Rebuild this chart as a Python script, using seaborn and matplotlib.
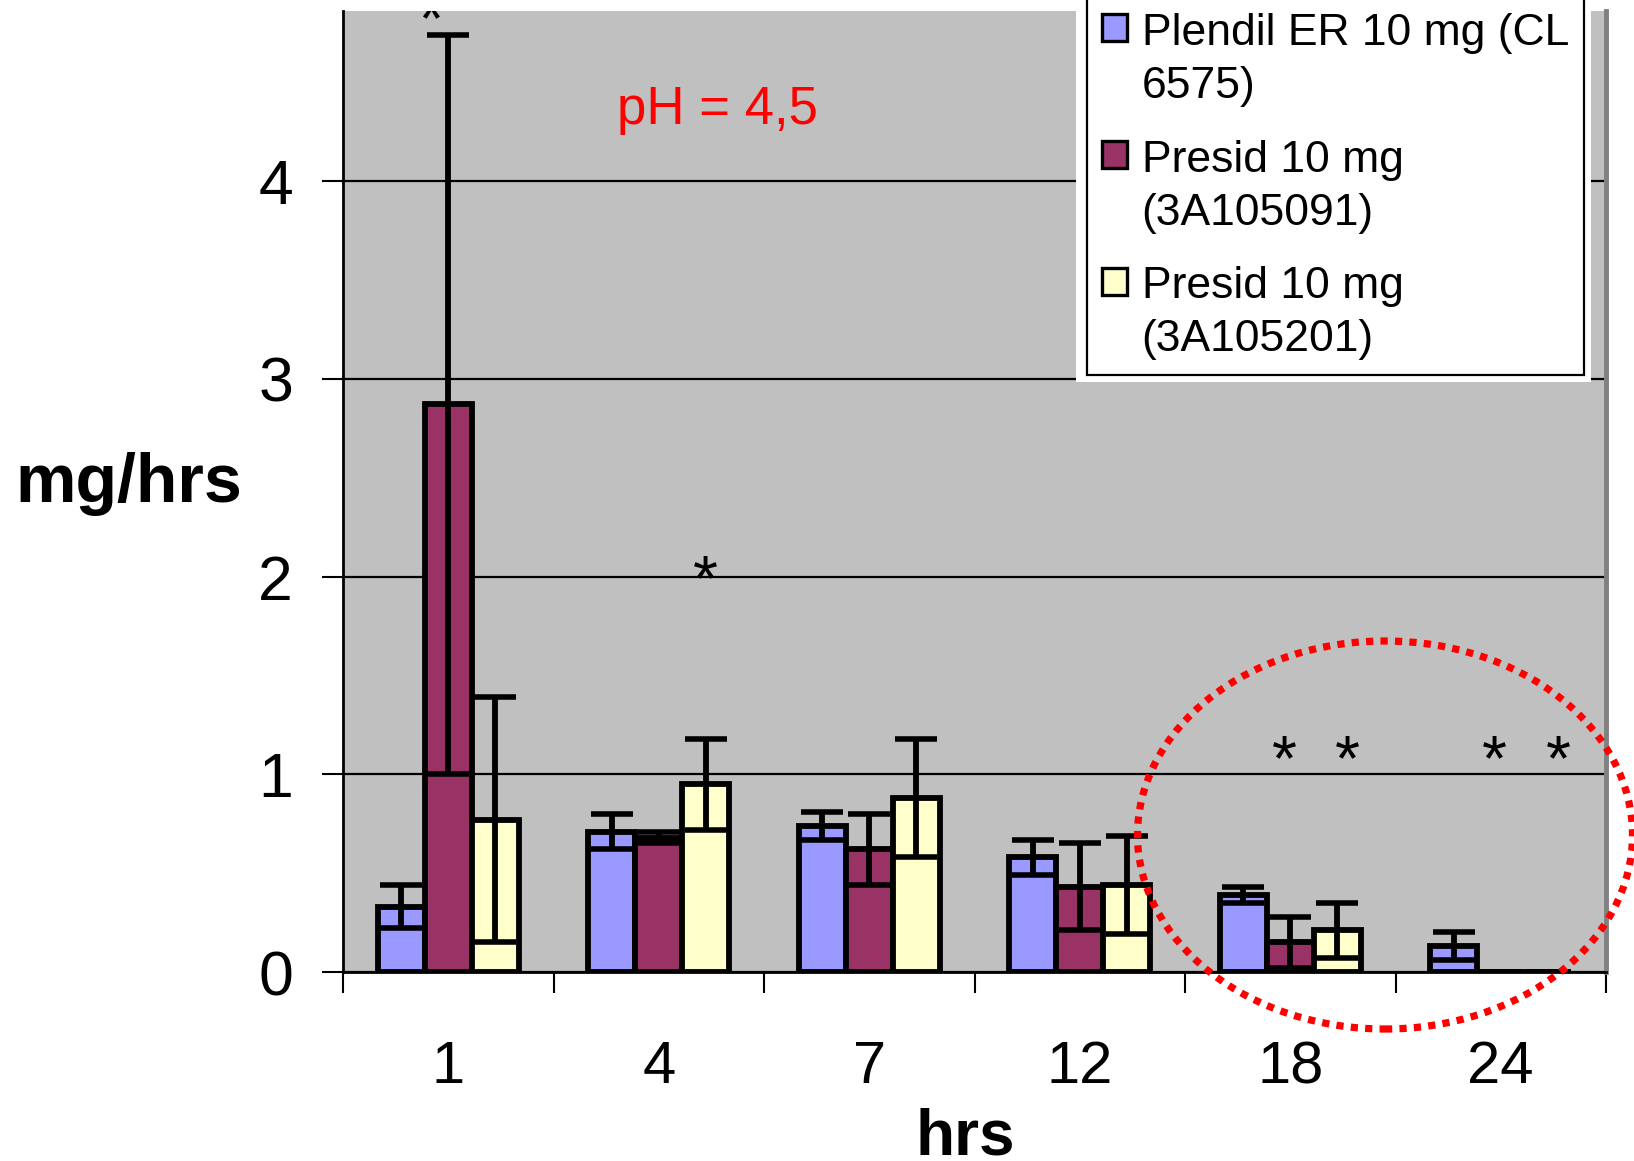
import numpy as np
import pandas as pd
import matplotlib
matplotlib.use("Agg")
import matplotlib.pyplot as plt
import matplotlib.patches as mpatches
import matplotlib.transforms as mtransforms
from matplotlib.legend_handler import HandlerPatch
import seaborn as sns

# ---- data ----
HOURS = ["1", "4", "7", "12", "18", "24"]
SERIES = ["Plendil ER 10 mg (CL\n6575)", "Presid 10 mg\n(3A105091)", "Presid 10 mg\n(3A105201)"]
plendil = [0.33, 0.71, 0.74, 0.58, 0.39, 0.13]
plendil_sd = [0.11, 0.09, 0.07, 0.09, 0.04, 0.07]
presid_091 = [2.87, 0.68, 0.62, 0.43, 0.15, 0.0]
presid_091_sd = [1.87, 0.03, 0.18, 0.22, 0.13, 0.0]
presid_201 = [0.77, 0.95, 0.88, 0.44, 0.21, 0.0]
presid_201_sd = [0.62, 0.23, 0.30, 0.25, 0.14, 0.0]

# significance stars: group index, series index, level, small nudge along x
STAR_GROUP = [0, 1, 4, 4, 5, 5]
STAR_SERIES = [1, 2, 1, 2, 1, 2]
STAR_LEVEL = [4.89, 2.06, 1.15, 1.15, 1.15, 1.15]
STAR_DX = [-0.08, 0.0, -0.03, 0.05, -0.03, 0.05]

COLORS = ["#9999FF", "#993366", "#FFFFCC"]
PLOT_BG = "#C0C0C0"
STAR_FS = 46


def first_line_square(legend, orig_handle, xdescent, ydescent, width, height, fontsize):
    # Excel puts the legend key next to the first line of a wrapped label
    return mpatches.Rectangle((-xdescent, -ydescent + 0.73 * fontsize), width, height)


def main():
    sns.set_theme(style="white")
    plt.rcParams["font.family"] = ["Liberation Sans", "DejaVu Sans"]
    for k in ["text.color", "axes.labelcolor", "xtick.color", "ytick.color"]:
        plt.rcParams[k] = "black"

    df = pd.DataFrame({
        "hrs": HOURS * 3,
        "series": np.repeat(SERIES, len(HOURS)),
        "rate": plendil + presid_091 + presid_201,
    })
    sds = [plendil_sd, presid_091_sd, presid_201_sd]

    fig = plt.figure(figsize=(16.34, 11.61), dpi=100)
    ax = fig.add_axes([343 / 1634, 1 - 972 / 1161, 1263 / 1634, 961 / 1161])
    ax.set_facecolor(PLOT_BG)

    sns.barplot(data=df, x="hrs", y="rate", hue="series", order=HOURS, hue_order=SERIES,
                palette=COLORS, saturation=1, width=0.67, errorbar=None,
                edgecolor="black", linewidth=4.2, legend=False, ax=ax, zorder=2)
    for cont in ax.containers:
        for b in cont:
            b.set_linewidth(4.2)

    # error bars on top of every bar
    for cont, sd in zip(ax.containers, sds):
        xs = [b.get_x() + b.get_width() / 2 for b in cont]
        ys = [b.get_height() for b in cont]
        ax.errorbar(xs, ys, yerr=sd, fmt="none", ecolor="black", elinewidth=4.2,
                    capsize=15, capthick=4, zorder=4)

    # asterisks
    star_tr = mtransforms.offset_copy(ax.transData, fig=fig, y=-0.55 * STAR_FS, units="points")
    for g, s, lvl, dx in zip(STAR_GROUP, STAR_SERIES, STAR_LEVEL, STAR_DX):
        b = ax.containers[s][g]
        ax.text(b.get_x() + b.get_width() / 2 + dx, lvl, "*", transform=star_tr,
                ha="center", va="baseline", fontsize=STAR_FS, color="black",
                zorder=5, clip_on=True)

    ax.text(0.2965, 0.8975, "pH = 4,5", transform=ax.transAxes, color="red",
            fontsize=38, ha="center", va="center")

    # axes styling
    ax.set_xlim(-0.5, 5.5)
    ax.set_ylim(0, 4.86)
    ax.set_yticks([0, 1, 2, 3, 4])
    ax.yaxis.grid(True, color="black", linewidth=1.6)
    ax.set_axisbelow(True)
    ax.set_xticks(range(len(HOURS)))
    ax.set_xticklabels(HOURS)
    ax.set_xticks(np.arange(-0.5, len(HOURS), 1), minor=True)
    ax.tick_params(axis="x", which="major", bottom=True, length=0, pad=49, labelsize=43)
    ax.tick_params(axis="x", which="minor", bottom=True, length=15, width=1.5,
                   color="black", direction="out")
    ax.tick_params(axis="y", left=True, length=15, width=1.5, color="black",
                   direction="out", pad=21, labelsize=45)
    for sp in ["left", "bottom"]:
        ax.spines[sp].set_color("black")
        ax.spines[sp].set_linewidth(2)
    ax.spines["right"].set_color("#808080")
    ax.spines["right"].set_linewidth(3.5)
    ax.spines["top"].set_visible(False)

    ax.set_xlabel("hrs", fontsize=46, fontweight="bold", va="top")
    ax.xaxis.set_label_coords(0.493, -0.141)
    ax.set_ylabel("mg/hrs", fontsize=49, fontweight="bold", rotation=0,
                  ha="center", va="center")
    ax.yaxis.set_label_coords(-0.170, 0.508)

    # legend with white backing, cut off at the top as in the source
    fig.patches.append(mpatches.Rectangle((1076 / 1634, 1 - 382 / 1161), 515 / 1634, 400 / 1161,
                                          transform=fig.transFigure, facecolor="white",
                                          edgecolor="none", zorder=1))
    handles = [mpatches.Patch(facecolor=c, edgecolor="black", linewidth=2.4) for c in COLORS]
    leg = fig.legend(handles, SERIES, loc="lower left",
                     bbox_to_anchor=(1087 / 1634, 1 - 375 / 1161), bbox_transform=fig.transFigure,
                     fontsize=32, frameon=True, fancybox=False, edgecolor="black",
                     facecolor="white", framealpha=1, borderpad=0.33, borderaxespad=0,
                     handlelength=0.56, handleheight=0.56, handletextpad=0.34, labelspacing=0.74,
                     handler_map={mpatches.Patch: HandlerPatch(patch_func=first_line_square)})
    for t in leg.get_texts():
        t.set_linespacing(1.37)
    leg.get_frame().set_linewidth(1.6)
    leg.set_zorder(3)

    # red dotted ellipse round the late time points
    fig.patches.append(mpatches.Ellipse((1385 / 1634, 1 - 835 / 1161), 495 / 1634, 388 / 1161,
                                        transform=fig.transFigure, fill=False, edgecolor="red",
                                        linewidth=5.2, linestyle=(0, (1, 1)), zorder=6))

    fig.savefig("out.png", dpi=100, facecolor="white")


if __name__ == "__main__":
    main()
